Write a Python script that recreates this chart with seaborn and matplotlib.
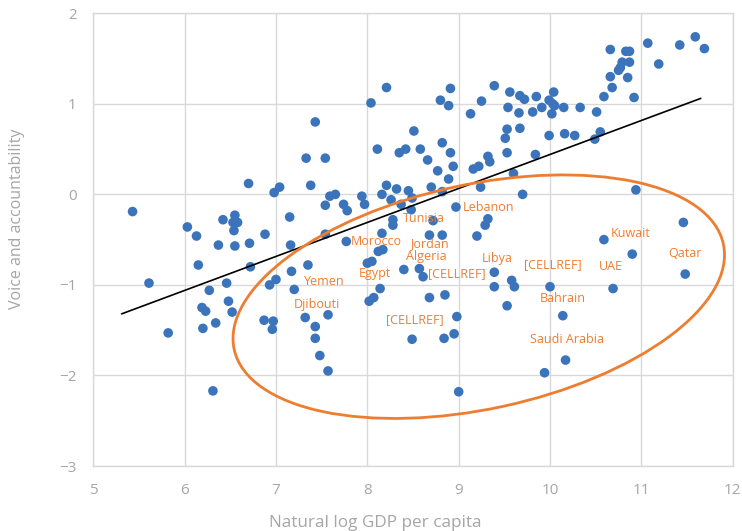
import numpy as np
import pandas as pd
import matplotlib
matplotlib.use("Agg")
import matplotlib.pyplot as plt
from matplotlib.patches import Ellipse
import seaborn as sns

# ---- data ----
gdp = [5.43, 7.43, 7.33, 7.54, 6.70, 6.98, 7.04, 7.38, 7.59, 7.65, 7.54, 7.15, 6.42, 6.55, 6.53, 6.58,
       6.54, 6.03, 6.13, 6.88, 7.54, 6.37, 6.55, 6.71, 7.16, 6.15, 6.72, 7.35, 7.17, 5.61, 6.46, 6.93,
       7.00, 6.27, 7.20, 6.48, 6.19, 6.23, 6.52, 6.20, 6.34, 5.82, 6.87, 6.97, 6.96, 7.32, 7.43, 7.57,
       7.43, 7.48, 7.57, 6.31,
       8.21, 8.04, 8.80, 8.91, 8.89, 9.39, 9.25, 9.13, 9.56, 9.67, 9.72, 9.85, 9.54, 9.66, 9.81, 9.91,
       9.99, 9.53, 9.67, 9.51, 9.53, 9.84, 9.99, 8.51, 8.11, 8.35, 8.42, 8.58, 8.82, 8.91, 8.66, 8.94,
       8.77, 9.32, 9.34, 9.16, 9.22, 8.89, 9.60, 8.21, 8.32, 8.45, 8.70, 8.82, 9.24, 9.70, 8.16, 7.94,
       8.26, 8.49, 7.74, 7.78, 7.97, 8.37, 8.48, 8.97, 8.28, 8.28, 8.72, 9.32, 9.29, 8.16, 8.68, 8.82,
       9.20,
       7.77, 8.12, 8.17, 8.00, 8.05, 8.40, 8.57, 8.61, 8.14, 8.02, 8.07, 8.68, 8.85, 8.98, 8.49, 8.84,
       8.95, 9.00, 9.39, 9.39, 9.58, 9.61, 9.53, 10.00, 9.94,
       10.59, 10.90, 11.48, 10.69, 10.14, 10.17,
       10.66, 10.83, 10.87, 11.07, 11.42, 11.59, 11.69, 11.19, 10.79, 10.87, 10.77, 10.75, 10.85, 10.66,
       10.68, 10.59, 10.92, 10.04, 10.03, 10.05, 10.15, 10.33, 10.51, 10.02, 10.16, 10.27, 10.55, 10.49,
       10.94, 11.46]
voice = [-0.19, 0.80, 0.40, 0.40, 0.12, 0.02, 0.08, 0.10, -0.02, 0.00, -0.12, -0.25, -0.28, -0.23, -0.31, -0.31,
         -0.40, -0.36, -0.46, -0.44, -0.44, -0.56, -0.57, -0.54, -0.56, -0.78, -0.80, -0.78, -0.85, -0.98, -0.98, -1.00,
         -0.94, -1.06, -1.05, -1.18, -1.25, -1.29, -1.30, -1.48, -1.42, -1.53, -1.39, -1.40, -1.49, -1.36, -1.46, -1.33,
         -1.59, -1.78, -1.95, -2.17,
         1.18, 1.01, 1.04, 1.17, 0.98, 1.20, 1.03, 0.89, 1.13, 1.09, 1.05, 1.08, 0.96, 0.90, 0.91, 0.96,
         1.04, 0.72, 0.73, 0.62, 0.46, 0.44, 0.65, 0.70, 0.50, 0.46, 0.50, 0.50, 0.57, 0.46, 0.38, 0.31,
         0.26, 0.42, 0.36, 0.28, 0.31, 0.17, 0.23, 0.10, 0.06, 0.04, 0.08, 0.03, 0.08, 0.00, 0.00, -0.02,
         -0.06, -0.04, -0.11, -0.18, -0.11, -0.11, -0.17, -0.14, -0.28, -0.34, -0.29, -0.27, -0.34, -0.43, -0.45, -0.45,
         -0.46,
         -0.52, -0.63, -0.61, -0.76, -0.74, -0.83, -0.82, -0.91, -1.04, -1.18, -1.14, -1.14, -1.11, -1.35, -1.60, -1.59,
         -1.54, -2.18, -0.86, -1.02, -0.95, -1.02, -1.23, -1.02, -1.97,
         -0.50, -0.66, -0.88, -1.04, -1.34, -1.83,
         1.60, 1.58, 1.58, 1.67, 1.65, 1.74, 1.61, 1.44, 1.46, 1.46, 1.40, 1.37, 1.29, 1.30,
         1.18, 1.08, 1.07, 1.13, 1.00, 0.98, 0.96, 0.96, 0.91, 0.89, 0.67, 0.65, 0.69, 0.61,
         0.05, -0.31]

trend_x = [5.31, 11.65]
trend_y = [-1.32, 1.06]

label_text = ["Lebanon", "Tunisia", "Morocco", "Jordan", "Algeria", "Egypt", "[CELLREF]", "Libya",
              "[CELLREF]", "[CELLREF]", "Yemen", "Djibouti", "Kuwait", "UAE", "Qatar", "Bahrain",
              "Saudi Arabia"]
label_x = [9.05, 8.39, 7.82, 8.47, 8.42, 7.91, 8.66, 9.25, 9.71, 8.20, 7.31, 7.20, 10.66, 10.54, 11.29, 9.89, 9.78]
label_y = [-0.15, -0.27, -0.52, -0.54, -0.69, -0.87, -0.88, -0.71, -0.78, -1.38, -0.96, -1.22, -0.43, -0.80, -0.65, -1.15, -1.60]

ellipse_center = (9.22, -1.13)
ellipse_width = 5.48
ellipse_height = 2.48
ellipse_angle = 12.3

x_ticks = [5, 6, 7, 8, 9, 10, 11, 12]
y_ticks = [-3, -2, -1, 0, 1, 2]

# ---- style ----
sns.set_style("white")
plt.rcParams['font.family'] = ['Open Sans', 'DejaVu Sans']

GRAY = "#A6A6A6"
GRID = "#D9D9D9"
BLUE = "#3B74BA"
ORANGE = "#ED7D31"

fig = plt.figure(figsize=(7.42, 5.31), dpi=100)
ax = fig.add_axes([0.1257, 0.1224, 0.9875 - 0.1257, 0.975 - 0.1224])

df = pd.DataFrame({"gdp": gdp, "voice": voice})
sns.scatterplot(data=df, x="gdp", y="voice", ax=ax, color=BLUE, s=48, edgecolor="none", zorder=3)

ax.plot(trend_x, trend_y, color="black", lw=1.2, zorder=4)

ax.add_patch(Ellipse(ellipse_center, ellipse_width, ellipse_height, angle=ellipse_angle,
                     fill=False, edgecolor=ORANGE, lw=2, zorder=5))

for t, lx, ly in zip(label_text, label_x, label_y):
    ax.text(lx, ly, t, color=ORANGE, fontsize=9, ha="left", va="center", zorder=6)

ax.set_xlim(5, 12)
ax.set_ylim(-3, 2)
ax.set_xticks(x_ticks)
ax.set_yticks(y_ticks)
ax.grid(True, color=GRID, lw=1)
ax.set_axisbelow(True)
for s in ax.spines.values():
    s.set_color(GRID)
    s.set_linewidth(1)

ax.tick_params(axis="x", length=0, pad=12, labelsize=11, labelcolor=GRAY)
ax.tick_params(axis="y", length=4, color=GRID, pad=8, labelsize=11, labelcolor=GRAY)
ax.set_xlabel("Natural log GDP per capita", fontsize=12.3, color=GRAY)
ax.set_ylabel("Voice and accountability", fontsize=11.5, color=GRAY)
ax.xaxis.label.set_va("center")
ax.yaxis.label.set_va("center")
ax.xaxis.set_label_coords(0.4406, -0.126)
ax.yaxis.set_label_coords(-0.12, 0.546)

fig.savefig("out.png", dpi=100)
